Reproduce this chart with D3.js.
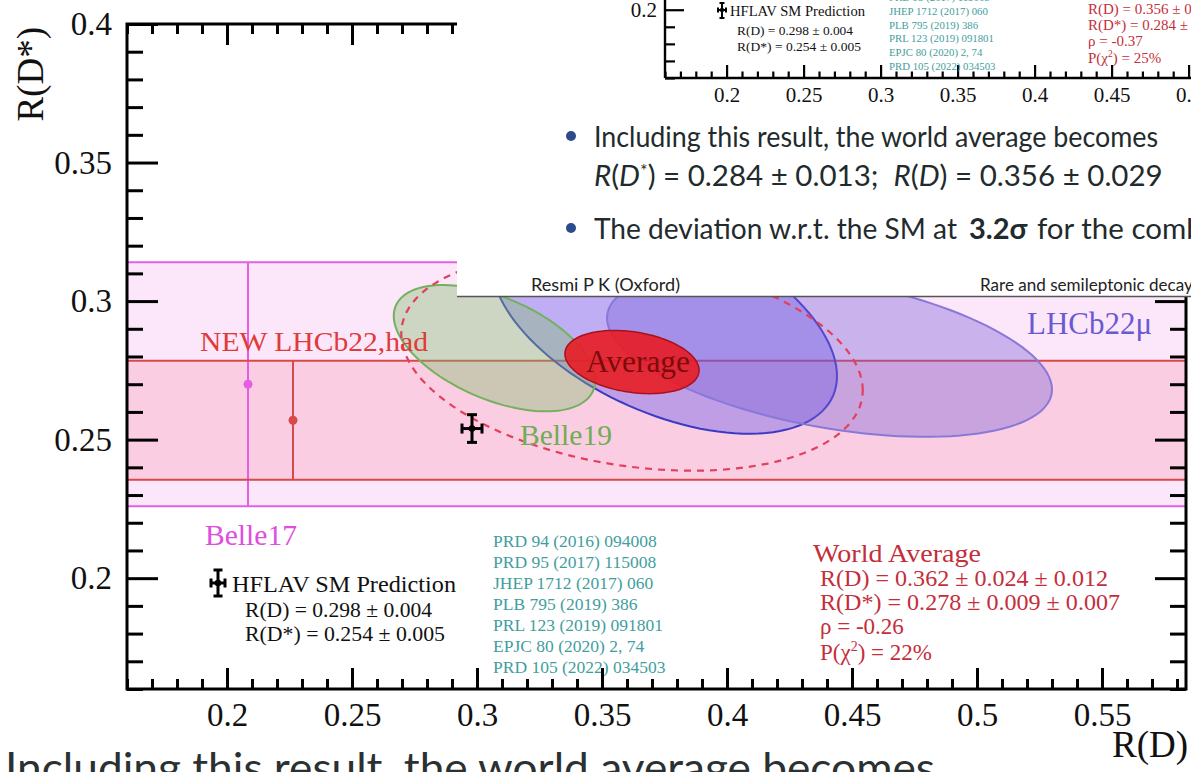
<!DOCTYPE html>
<html>
<head>
<meta charset="utf-8">
<script src="https://cdn.jsdelivr.net/npm/d3@7"></script>
<style>
  body { margin: 0; background: #fff; }
  svg { display: block; }
</style>
</head>
<body>
<svg id="chart" width="1191" height="772"></svg>
<script>
// ---- axis ranges and ticks ----
const rdRange = [0.16, 0.5836];
const rdsRange = [0.16, 0.4];
const xTickVals = [0.2, 0.25, 0.3, 0.35, 0.4, 0.45, 0.5, 0.55];
const xTickLabels = ['0.2', '0.25', '0.3', '0.35', '0.4', '0.45', '0.5', '0.55'];
const yTickVals = [0.2, 0.25, 0.3, 0.35, 0.4];
const yTickLabels = ['0.2', '0.25', '0.3', '0.35', '0.4'];

// ---- R(D*)-only measurements (bands) ----
const bandNames = ['Belle17', 'NEW LHCb22,had'];
const bandRD = [0.2084, 0.2264];      // where the marker sits
const bandRDs = [0.270, 0.257];
const bandErr = [0.044, 0.0215];

// ---- R(D)-R(D*) measurements (1 sigma ellipses) ----
const ellNames = ['BaBar12', 'Belle15', 'LHCb22μ', 'Belle19'];
const ellRD = [0.440, 0.375, 0.441, 0.307];
const ellRDs = [0.332, 0.293, 0.281, 0.283];
const ellErrRD = [0.0716, 0.069, 0.089, 0.0403];
const ellErrRDs = [0.030, 0.0409, 0.030, 0.0228];
const ellRho = [-0.27, -0.49, -0.43, -0.51];

// ---- world average ----
const avgRD = 0.362, avgErrRD = [0.024, 0.012];
const avgRDs = 0.278, avgErrRDs = [0.009, 0.007];
const avgRho = -0.26;
const avgPchi2 = 22;
const avgContours = [1, 3.44];        // 1 sigma filled, 3 sigma dashed

// ---- SM prediction ----
const smRD = [0.298, 0.004];
const smRDs = [0.254, 0.005];

const refs = ['PRD 94 (2016) 094008', 'PRD 95 (2017) 115008', 'JHEP 1712 (2017) 060',
  'PLB 795 (2019) 386', 'PRL 123 (2019) 091801', 'EPJC 80 (2020) 2, 74', 'PRD 105 (2022) 034503'];

// ---- overlaid slide (updated average) ----
const newRD = [0.356, 0.029];
const newRDs = [0.284, 0.013];
const newRho = -0.37;
const newPchi2 = 25;
const deviation = '3.2σ';

// ---- styles ----
const bandFill = ['#fce6fa', 'rgba(250,70,100,0.15)'];
const bandLine = ['#e35fe3', '#d64a4a'];
const bandText = ['#e04ee0', '#e03a3a'];
const ellFill = ['rgba(60,140,200,0.35)', 'rgba(85,75,232,0.36)', 'rgba(120,95,215,0.38)', 'rgba(125,190,105,0.38)'];
const ellStroke = ['#3c7ec0', '#3a3ac4', '#8a78d8', '#74b05e'];
const serif = 'Liberation Serif, Times New Roman, serif';
const sans = 'Lato, Open Sans, sans-serif';

const svg = d3.select('#chart');
const x = d3.scaleLinear().domain(rdRange).range([127, 1186]);
const y = d3.scaleLinear().domain(rdsRange).range([689, 24]);

svg.append('defs').append('clipPath').attr('id', 'plotClip')
  .append('rect').attr('x', 127).attr('y', 24).attr('width', 1059).attr('height', 665);

const plot = svg.append('g').attr('clip-path', 'url(#plotClip)');

// bands
bandNames.forEach((n, i) => {
  plot.append('rect')
    .attr('x', x(rdRange[0])).attr('width', x(rdRange[1]) - x(rdRange[0]))
    .attr('y', y(bandRDs[i] + bandErr[i]))
    .attr('height', y(bandRDs[i] - bandErr[i]) - y(bandRDs[i] + bandErr[i]))
    .attr('fill', bandFill[i]);
});
bandNames.forEach((n, i) => {
  [bandRDs[i] - bandErr[i], bandRDs[i] + bandErr[i]].forEach(v => {
    plot.append('line')
      .attr('x1', x(rdRange[0])).attr('x2', x(rdRange[1]))
      .attr('y1', y(v)).attr('y2', y(v))
      .attr('stroke', bandLine[i]).attr('stroke-width', 2);
  });
  plot.append('line')
    .attr('x1', x(bandRD[i])).attr('x2', x(bandRD[i]))
    .attr('y1', y(bandRDs[i] - bandErr[i])).attr('y2', y(bandRDs[i] + bandErr[i]))
    .attr('stroke', bandLine[i]).attr('stroke-width', 2);
  plot.append('circle')
    .attr('cx', x(bandRD[i])).attr('cy', y(bandRDs[i])).attr('r', 4.5)
    .attr('fill', bandLine[i]);
});

// ellipse contour through the scales
function contour(cx, cy, sx, sy, rho, k) {
  const s = Math.sqrt(1 - rho * rho);
  return d3.range(0, 360, 3).map(a => {
    const t = a * Math.PI / 180;
    return [x(cx + k * sx * Math.cos(t)), y(cy + k * sy * (rho * Math.cos(t) + s * Math.sin(t)))];
  });
}
const closed = d3.line().curve(d3.curveLinearClosed);

ellNames.forEach((n, i) => {
  plot.append('path')
    .attr('d', closed(contour(ellRD[i], ellRDs[i], ellErrRD[i], ellErrRDs[i], ellRho[i], 1)))
    .attr('fill', ellFill[i]).attr('stroke', ellStroke[i]).attr('stroke-width', 2);
});

const avgSx = Math.hypot(...avgErrRD);
const avgSy = Math.hypot(...avgErrRDs);
plot.append('path')
  .attr('d', closed(contour(avgRD, avgRDs, avgSx, avgSy, avgRho, avgContours[0])))
  .attr('fill', 'rgba(232,28,36,0.9)').attr('stroke', '#a8101c').attr('stroke-width', 1.5);
plot.append('path')
  .attr('d', closed(contour(avgRD, avgRDs, avgSx, avgSy, avgRho, avgContours[1])))
  .attr('fill', 'none').attr('stroke', '#e2405a').attr('stroke-width', 2.2)
  .attr('stroke-dasharray', '7,6');

// SM prediction
function errCross(g, cx, cy, x0, x1, y0, y1, cap, sw) {
  const segs = [[x0, cy, x1, cy], [cx, y0, cx, y1],
    [x0, cy - cap, x0, cy + cap], [x1, cy - cap, x1, cy + cap],
    [cx - cap, y0, cx + cap, y0], [cx - cap, y1, cx + cap, y1]];
  segs.forEach(s => g.append('line')
    .attr('x1', s[0]).attr('y1', s[1]).attr('x2', s[2]).attr('y2', s[3])
    .attr('stroke', '#000').attr('stroke-width', sw));
  g.append('circle').attr('cx', cx).attr('cy', cy).attr('r', sw * 1.1).attr('fill', '#000');
}
errCross(plot, x(smRD[0]), y(smRDs[0]), x(smRD[0] - smRD[1]), x(smRD[0] + smRD[1]),
  y(smRDs[0] - smRDs[1]), y(smRDs[0] + smRDs[1]), 5, 3);

// labels in the plot
const txt = (g, s, px, py, size, fill, extra) => {
  const t = g.append('text').attr('x', px).attr('y', py).text(s)
    .attr('font-family', serif).attr('font-size', size).attr('fill', fill);
  if (extra) Object.entries(extra).forEach(([k, v]) => t.attr(k, v));
  return t;
};
const fit = { lengthAdjust: 'spacingAndGlyphs' };
txt(plot, bandNames[1], 200, 351, 27.5, bandText[1], { ...fit, textLength: 228 });
txt(plot, bandNames[0], 205, 545, 29.5, bandText[0], { ...fit, textLength: 92 });
txt(plot, ellNames[3], 520, 445, 29.5, '#6fae52', { ...fit, textLength: 92 });
txt(plot, ellNames[2], 1027, 334, 31, '#6a5ad2', { ...fit, textLength: 125 });
txt(plot, 'Average', 586, 372, 31, '#7e0b0b', { ...fit, textLength: 104 });

txt(svg, 'HFLAV SM Prediction', 232, 592, 24, '#111', { ...fit, textLength: 224 });
txt(svg, `R(D) = ${smRD[0].toFixed(3)} ± ${smRD[1].toFixed(3)}`, 245, 617, 21, '#111', { ...fit, textLength: 187 });
txt(svg, `R(D*) = ${smRDs[0].toFixed(3)} ± ${smRDs[1].toFixed(3)}`, 245, 641, 21, '#111', { ...fit, textLength: 200 });
errCross(svg, 218, 583, 211, 225, 570, 596, 4.5, 3);

refs.forEach((r, i) => txt(svg, r, 493, 547 + i * 21, 17.5, '#3f9e9e'));

const wa = '#c42e3a';
txt(svg, 'World Average', 813, 562, 25, wa, { ...fit, textLength: 168 });
txt(svg, `R(D) = ${avgRD.toFixed(3)} ± ${avgErrRD[0].toFixed(3)} ± ${avgErrRD[1].toFixed(3)}`, 820, 586, 23, wa, { ...fit, textLength: 288 });
txt(svg, `R(D*) = ${avgRDs.toFixed(3)} ± ${avgErrRDs[0].toFixed(3)} ± ${avgErrRDs[1].toFixed(3)}`, 820, 610, 23, wa, { ...fit, textLength: 300 });
txt(svg, `ρ = ${avgRho}`, 820, 634, 23, wa);
const pc = txt(svg, 'P(χ', 820, 660, 23, wa);
pc.append('tspan').attr('dy', -9).attr('font-size', 14).text('2');
pc.append('tspan').attr('dy', 9).text(`) = ${avgPchi2}%`);

// axes
const xMinor = d3.range(16, 59).map(v => v / 100).filter(v => !xTickVals.some(t => Math.abs(t - v) < 1e-9));
const yMinor = d3.range(16, 41).map(v => v / 100).filter(v => !yTickVals.some(t => Math.abs(t - v) < 1e-9));

function styleAxis(g, sw, size) {
  g.select('.domain').remove();
  g.selectAll('.tick line').attr('stroke', '#000').attr('stroke-width', sw);
  g.selectAll('.tick text').attr('font-family', serif).attr('font-size', size).attr('fill', '#111');
}
const ax = svg.append('g');
ax.append('g').attr('transform', 'translate(0,689)')
  .call(d3.axisBottom(x).tickValues(xTickVals).tickSizeInner(-21).tickSizeOuter(0).tickPadding(14)
    .tickFormat((d, i) => xTickLabels[i])).call(g => styleAxis(g, 3, 33));
ax.append('g').attr('transform', 'translate(0,689)')
  .call(d3.axisBottom(x).tickValues(xMinor).tickSizeInner(-10).tickSizeOuter(0).tickFormat(''))
  .call(g => styleAxis(g, 3, 33));
ax.append('g').attr('transform', 'translate(0,24)')
  .call(d3.axisTop(x).tickValues(xTickVals).tickSizeInner(-21).tickSizeOuter(0).tickFormat(''))
  .call(g => styleAxis(g, 3, 33));
ax.append('g').attr('transform', 'translate(0,24)')
  .call(d3.axisTop(x).tickValues(xMinor).tickSizeInner(-10).tickSizeOuter(0).tickFormat(''))
  .call(g => styleAxis(g, 3, 33));
ax.append('g').attr('transform', 'translate(127,0)')
  .call(d3.axisLeft(y).tickValues(yTickVals).tickSizeInner(-31).tickSizeOuter(0).tickPadding(15)
    .tickFormat((d, i) => yTickLabels[i])).call(g => styleAxis(g, 3, 33));
ax.append('g').attr('transform', 'translate(127,0)')
  .call(d3.axisLeft(y).tickValues(yMinor).tickSizeInner(-16).tickSizeOuter(0).tickFormat(''))
  .call(g => styleAxis(g, 3, 33));
ax.append('g').attr('transform', 'translate(1186,0)')
  .call(d3.axisRight(y).tickValues(yTickVals).tickSizeInner(-31).tickSizeOuter(0).tickFormat(''))
  .call(g => styleAxis(g, 3, 33));
ax.append('g').attr('transform', 'translate(1186,0)')
  .call(d3.axisRight(y).tickValues(yMinor).tickSizeInner(-16).tickSizeOuter(0).tickFormat(''))
  .call(g => styleAxis(g, 3, 33));
ax.append('rect').attr('x', 127).attr('y', 24).attr('width', 1059).attr('height', 665)
  .attr('fill', 'none').attr('stroke', '#000').attr('stroke-width', 3);

txt(svg, 'R(D)', 1188, 757, 37, '#111', { 'text-anchor': 'end' });
txt(svg, 'R(D*)', 0, 0, 37, '#111', { 'text-anchor': 'end', transform: 'translate(43,27) rotate(-90)' });

// slide text below the chart (cut by the window)
svg.append('text').attr('x', 5).attr('y', 783).attr('font-family', sans).attr('font-size', 42)
  .attr('fill', '#2b3133').attr('textLength', 930).attr('lengthAdjust', 'spacingAndGlyphs')
  .text('Including this result, the world average becomes');

// ---- overlaid screenshot of the updated slide ----
const inset = svg.append('g');
inset.append('rect').attr('x', 457).attr('y', 0).attr('width', 734).attr('height', 296).attr('fill', '#fff');
inset.append('line').attr('x1', 457).attr('x2', 1191).attr('y1', 296.5).attr('y2', 296.5)
  .attr('stroke', '#555').attr('stroke-width', 1.6);

const k = 0.616;
const xi = d3.scaleLinear().domain(rdRange).range([665, 665 + 1059 * k]);
const yi = d3.scaleLinear().domain(rdsRange).range([78, 78 - 665 * k]);
svg.select('defs').append('clipPath').attr('id', 'insetClip')
  .append('rect').attr('x', 457).attr('y', 0).attr('width', 734).attr('height', 115);
const ic = inset.append('g').attr('clip-path', 'url(#insetClip)');
ic.append('g').attr('transform', 'translate(0,78)')
  .call(d3.axisBottom(xi).tickValues(xTickVals).tickSizeInner(-13).tickSizeOuter(0).tickPadding(9)
    .tickFormat((d, i) => xTickLabels[i])).call(g => styleAxis(g, 2.2, 21));
ic.append('g').attr('transform', 'translate(0,78)')
  .call(d3.axisBottom(xi).tickValues(xMinor).tickSizeInner(-6.5).tickSizeOuter(0).tickFormat(''))
  .call(g => styleAxis(g, 2.2, 21));
ic.append('g').attr('transform', 'translate(665,0)')
  .call(d3.axisLeft(yi).tickValues(yTickVals).tickSizeInner(-19).tickSizeOuter(0).tickPadding(8)
    .tickFormat((d, i) => yTickLabels[i])).call(g => styleAxis(g, 2.2, 21));
ic.append('g').attr('transform', 'translate(665,0)')
  .call(d3.axisLeft(yi).tickValues(yMinor).tickSizeInner(-10).tickSizeOuter(0).tickFormat(''))
  .call(g => styleAxis(g, 2.2, 21));
ic.append('line').attr('x1', 665).attr('x2', 1191).attr('y1', 78).attr('y2', 78).attr('stroke', '#000').attr('stroke-width', 2.4);
ic.append('line').attr('x1', 665).attr('x2', 665).attr('y1', 0).attr('y2', 78).attr('stroke', '#000').attr('stroke-width', 2.4);

errCross(ic, 722, 10, 718, 726, 3, 18, 2.5, 2);
txt(ic, 'HFLAV SM Prediction', 730, 16, 15, '#111', { ...fit, textLength: 135 });
txt(ic, `R(D) = ${smRD[0].toFixed(3)} ± ${smRD[1].toFixed(3)}`, 737, 35, 13, '#111', { ...fit, textLength: 116 });
txt(ic, `R(D*) = ${smRDs[0].toFixed(3)} ± ${smRDs[1].toFixed(3)}`, 737, 51, 13, '#111', { ...fit, textLength: 124 });
refs.slice(1).forEach((r, i) => txt(ic, r, 889, 1 + i * 13.8, 10.8, '#3f9e9e'));
txt(ic, `R(D) = ${newRD[0].toFixed(3)} ± ${newRD[1].toFixed(3)}`, 1088, 14, 15, wa);
txt(ic, `R(D*) = ${newRDs[0].toFixed(3)} ± ${newRDs[1].toFixed(3)}`, 1088, 30, 15, wa);
txt(ic, `ρ = ${newRho}`, 1088, 46, 15, wa);
const pc2 = txt(ic, 'P(χ', 1088, 63, 15, wa);
pc2.append('tspan').attr('dy', -6).attr('font-size', 9.5).text('2');
pc2.append('tspan').attr('dy', 6).text(`) = ${newPchi2}%`);

// bullets
const ink = '#1f2b2d';
inset.append('circle').attr('cx', 571).attr('cy', 136).attr('r', 5).attr('fill', '#2b4b8c');
inset.append('circle').attr('cx', 571).attr('cy', 228).attr('r', 5).attr('fill', '#2b4b8c');
inset.append('text').attr('x', 594).attr('y', 147).attr('font-family', sans).attr('font-size', 29)
  .attr('fill', ink).attr('textLength', 564).attr('lengthAdjust', 'spacingAndGlyphs')
  .text('Including this result, the world average becomes');

const m = inset.append('text').attr('x', 594).attr('y', 186).attr('font-family', sans)
  .attr('font-size', 29.5).attr('fill', ink);
const part = (s, o) => { const t = m.append('tspan').text(s); if (o) Object.entries(o).forEach(([a, b]) => t.attr(a, b)); };
part('R', { 'font-style': 'italic' }); part('('); part('D', { 'font-style': 'italic' });
part('*', { dy: -9, 'font-size': 18 }); part(')', { dy: 9 });
part(` = ${newRDs[0].toFixed(3)} ± ${newRDs[1].toFixed(3)};\u00a0\u00a0`);
part('R', { 'font-style': 'italic' }); part('('); part('D', { 'font-style': 'italic' }); part(')');
part(` = ${newRD[0].toFixed(3)} ± ${newRD[1].toFixed(3)}`);

inset.append('text').attr('x', 594).attr('y', 239).attr('font-family', sans).attr('font-size', 29)
  .attr('fill', ink).attr('textLength', 363).attr('lengthAdjust', 'spacingAndGlyphs')
  .text('The deviation w.r.t. the SM at');
inset.append('text').attr('x', 969).attr('y', 239).attr('font-family', sans).attr('font-size', 29)
  .attr('font-weight', 'bold').attr('fill', ink).text(deviation);
inset.append('text').attr('x', 1037).attr('y', 239).attr('font-family', sans).attr('font-size', 29.5)
  .attr('fill', ink).text('for the combination');

inset.append('text').attr('x', 531).attr('y', 291).attr('font-family', sans).attr('font-size', 17)
  .attr('fill', '#222').attr('textLength', 149).attr('lengthAdjust', 'spacingAndGlyphs')
  .text('Resmi P K (Oxford)');
inset.append('text').attr('x', 980).attr('y', 291).attr('font-family', sans).attr('font-size', 17)
  .attr('fill', '#222').attr('textLength', 220).attr('lengthAdjust', 'spacingAndGlyphs')
  .text('Rare and semileptonic decays');
</script>
</body>
</html>
